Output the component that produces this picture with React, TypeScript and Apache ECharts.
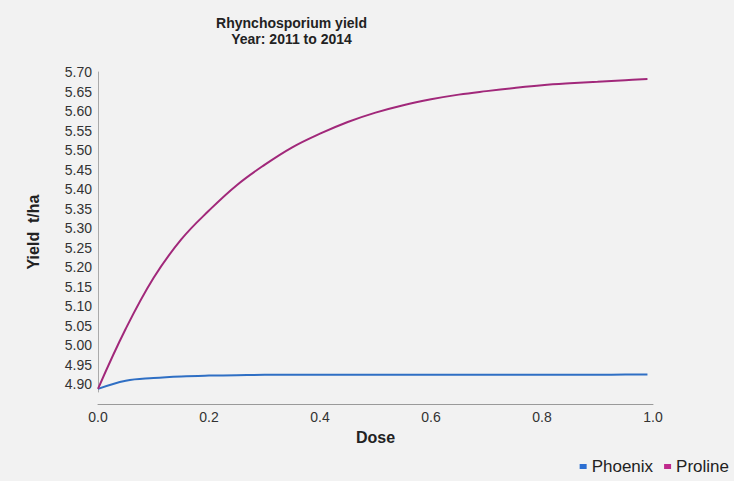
import React, { useEffect, useRef } from "react";
import * as echarts from "echarts";

const doses = [0, 0.05, 0.1, 0.15, 0.2, 0.25, 0.3, 0.35, 0.4, 0.45, 0.5, 0.55, 0.6, 0.65, 0.7, 0.75, 0.8, 0.85, 0.9, 0.95, 0.99];
const phoenix = [4.888, 4.909, 4.916, 4.92, 4.922, 4.923, 4.924, 4.924, 4.924, 4.924, 4.924, 4.924, 4.924, 4.924, 4.924, 4.924, 4.924, 4.924, 4.924, 4.925, 4.925];
const proline = [4.888, 5.042, 5.172, 5.271, 5.345, 5.41, 5.462, 5.507, 5.542, 5.572, 5.596, 5.615, 5.63, 5.642, 5.651, 5.659, 5.666, 5.671, 5.675, 5.679, 5.682];
const yTicks = [4.9, 4.95, 5.0, 5.05, 5.1, 5.15, 5.2, 5.25, 5.3, 5.35, 5.4, 5.45, 5.5, 5.55, 5.6, 5.65, 5.7];
const seriesNames = ["Phoenix", "Proline"];

const FONT = "'Liberation Sans', Arial, sans-serif";

export default function App() {
  const ref = useRef<HTMLDivElement>(null);
  useEffect(() => {
    if (!ref.current) return;
    const chart = echarts.init(ref.current, null, { renderer: "svg" });
    chart.setOption({
      animation: false,
      backgroundColor: "#f2f2f2",
      textStyle: { fontFamily: FONT },
      title: {
        text: "Rhynchosporium yield\nYear: 2011 to 2014",
        left: "center",
        top: 10,
        textStyle: { fontFamily: FONT, fontSize: 14, fontWeight: "bold", color: "#222", lineHeight: 16 },
        textAlign: "center",
      },
      legend: {
        right: 0,
        bottom: 1,
        icon: "rect",
        itemWidth: 7,
        itemHeight: 5,
        itemGap: 11,
        data: seriesNames,
        textStyle: { fontFamily: FONT, fontSize: 17, color: "#222", padding: [0, 0, 7, 0] },
      },
      grid: { left: 98, right: 81, top: 72, bottom: 89 },
      xAxis: {
        type: "value",
        min: 0,
        max: 1,
        interval: 0.2,
        offset: 12,
        name: "Dose",
        nameLocation: "middle",
        nameGap: 25,
        nameTextStyle: { fontFamily: FONT, fontSize: 16, fontWeight: "bold", color: "#222" },
        axisLine: { show: true, lineStyle: { color: "#9a9a9a", width: 1 } },
        axisTick: { show: false },
        splitLine: { show: false },
        axisLabel: { fontFamily: FONT, fontSize: 14, color: "#333", margin: 6, formatter: (v: number) => v.toFixed(1) },
      },
      yAxis: {
        type: "value",
        min: 4.88,
        max: 5.7,
        name: "Yield  t/ha",
        nameLocation: "middle",
        nameGap: 57,
        nameRotate: 90,
        nameTextStyle: { fontFamily: FONT, fontSize: 16, fontWeight: "bold", color: "#222" },
        axisLine: { show: true, lineStyle: { color: "#aaaaaa", width: 1 } },
        axisTick: { show: false },
        splitLine: { show: false },
        axisLabel: {
          fontFamily: FONT,
          fontSize: 14,
          color: "#333",
          margin: 6,
          customValues: yTicks,
          formatter: (v: number) => v.toFixed(2),
        },
      },
      series: [
        {
          name: seriesNames[0],
          type: "line",
          smooth: 0.4,
          showSymbol: false,
          data: doses.map((d, i) => [d, phoenix[i]]),
          itemStyle: { color: "#2d6fd2" },
          lineStyle: { color: "#2f6fc4", width: 2 },
        },
        {
          name: seriesNames[1],
          type: "line",
          smooth: 0.4,
          showSymbol: false,
          data: doses.map((d, i) => [d, proline[i]]),
          itemStyle: { color: "#c02a8d" },
          lineStyle: { color: "#a1287a", width: 2 },
        },
      ],
    });
    return () => chart.dispose();
  }, []);
  return <div ref={ref} style={{ position: "fixed", left: 0, top: 0, width: 734, height: 481 }} />;
}
